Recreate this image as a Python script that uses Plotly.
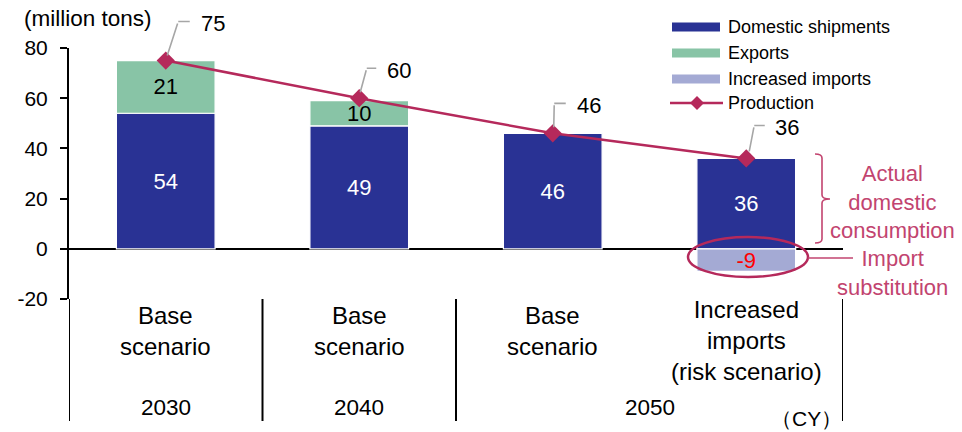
import plotly.graph_objects as go

# ---------------- data ----------------
scenarios = ["Base<br>scenario", "Base<br>scenario", "Base<br>scenario",
             "Increased<br>imports<br>(risk scenario)"]
years = ["2030", "2040", "2050"]
year_first_cat = [0, 1, 2]
year_last_cat = [0, 1, 3]
domestic = [54, 49, 46, 36]
exports = [21, 10, None, None]
imports = [None, None, None, -9]
production = [75, 60, 46, 36]
y_ticks = [-20, 0, 20, 40, 60, 80]
series_names = ["Domestic shipments", "Exports", "Increased imports", "Production"]
unit_label = "(million tons)"
year_unit = "（CY）"
note_actual = "Actual<br>domestic<br>consumption"
note_import = "Import<br>substitution"

# ---------------- style / geometry ----------------
W, H = 962, 432
L, R, T, B = 69, 119, 48, 133
PW, PH = W - L - R, H - T - B
FONT = "Liberation Sans, Arial, sans-serif"
C_DOM = "#293294"
C_EXP = "#88C4A6"
C_IMP = "#A4AAD4"
C_PROD = "#B5295B"
C_NOTE = "#C2446F"
C_LEAD = "#A6A6A6"


def px(x):
    return (x - L) / PW


def py(y):
    return (H - B - y) / PH


cats = list(range(len(scenarios)))


def lbl(vals):
    return ["" if v is None else str(v) for v in vals]


fig = go.Figure()
fig.add_trace(go.Bar(
    x=cats, y=domestic, name=series_names[0], marker=dict(color=C_DOM, line=dict(color="white", width=1.2)),
    text=lbl(domestic), textposition="inside", insidetextanchor="middle", textangle=0,
    textfont=dict(color="white", size=22, family=FONT)))
fig.add_trace(go.Bar(
    x=cats, y=exports, name=series_names[1], marker=dict(color=C_EXP, line=dict(color="white", width=1.2)),
    text=lbl(exports), textposition="inside", insidetextanchor="middle", textangle=0,
    textfont=dict(color="black", size=22, family=FONT)))
fig.add_trace(go.Bar(
    x=cats, y=imports, name=series_names[2], marker=dict(color=C_IMP, line=dict(color="white", width=1.2)),
    text=lbl(imports), textposition="inside", insidetextanchor="middle", textangle=0,
    textfont=dict(color="red", size=22, family=FONT)))
fig.add_trace(go.Scatter(
    x=cats, y=production, name=series_names[3], mode="lines+markers",
    line=dict(color=C_PROD, width=2.5), marker=dict(symbol="diamond", size=14, color=C_PROD)))

shapes = []
annotations = []

# production labels with bent leader lines (pixel offsets from marker: start, bend, end)
leader_pts = [
    [(1.5, 5), (12.5, 39), (25.5, 39)],
    [(1, 6), (7.5, 30), (18.5, 30)],
    [(1, 6), (1.5, 30), (14.5, 30)],
    [(3, 7), (8, 33), (20, 33)],
]
label_shift = [(47, 37), (40, 28), (36, 28), (41, 31)]
for i, v in enumerate(production):
    s, b, e = leader_pts[i]
    annotations.append(dict(x=cats[i], y=v, xref="x", yref="y", text=" ", showarrow=True,
                            xshift=s[0], yshift=s[1], ax=b[0] - s[0], ay=-(b[1] - s[1]),
                            arrowhead=0, arrowwidth=1.6, arrowcolor=C_LEAD, standoff=0,
                            font=dict(size=1)))
    annotations.append(dict(x=cats[i], y=v, xref="x", yref="y", text=" ", showarrow=True,
                            xshift=b[0], yshift=b[1], ax=e[0] - b[0], ay=-(e[1] - b[1]),
                            arrowhead=0, arrowwidth=1.6, arrowcolor=C_LEAD, standoff=0,
                            font=dict(size=1)))
    annotations.append(dict(x=cats[i], y=v, xref="x", yref="y", text=str(v), showarrow=False,
                            xshift=label_shift[i][0], yshift=label_shift[i][1],
                            xanchor="center", yanchor="middle",
                            font=dict(size=22, color="black", family=FONT)))

# category labels
for i, s in enumerate(scenarios):
    nlines = s.count("<br>") + 1
    yc = 331 if nlines == 2 else 340
    annotations.append(dict(x=cats[i], y=py(yc), xref="x", yref="paper", text=s, showarrow=False,
                            xanchor="center", yanchor="middle", align="center",
                            font=dict(size=24, color="black", family=FONT)))

# year labels
for j, yr in enumerate(years):
    xc = (year_first_cat[j] + year_last_cat[j]) / 2
    annotations.append(dict(x=xc, y=py(407), xref="x", yref="paper", text=yr, showarrow=False,
                            xanchor="center", yanchor="middle",
                            font=dict(size=22.5, color="black", family=FONT)))
annotations.append(dict(x=px(806), y=py(418), xref="paper", yref="paper", text=year_unit, showarrow=False,
                        xanchor="center", yanchor="middle",
                        font=dict(size=21, color="black", family=FONT)))

# separators below axis
for xs in [-0.5, 0.5, 1.5, 3.5]:
    shapes.append(dict(type="line", xref="x", yref="paper", x0=xs, x1=xs, y0=py(299), y1=py(421),
                       line=dict(color="black", width=2)))

# unit label
annotations.append(dict(x=px(22), y=py(18), xref="paper", yref="paper", text=unit_label, showarrow=False,
                        xanchor="left", yanchor="middle", font=dict(size=22.5, color="black", family=FONT)))

# manual legend
leg_rows = [27, 53, 79, 103]
leg_cols = [C_DOM, C_EXP, C_IMP]
for k in range(3):
    yc = leg_rows[k]
    shapes.append(dict(type="rect", xref="paper", yref="paper", x0=px(672), x1=px(720),
                       y0=py(yc - 4.5), y1=py(yc + 4.5), fillcolor=leg_cols[k], line=dict(width=0)))
shapes.append(dict(type="line", xref="paper", yref="paper", x0=px(670), x1=px(723),
                   y0=py(leg_rows[3]), y1=py(leg_rows[3]), line=dict(color=C_PROD, width=2.5)))
shapes.append(dict(type="path", xref="paper", yref="paper", xsizemode="pixel", ysizemode="pixel",
                   xanchor=px(697), yanchor=py(leg_rows[3]),
                   path="M -7,0 L 0,7 L 7,0 L 0,-7 Z", fillcolor=C_PROD, line=dict(width=0)))
for k, nm in enumerate(series_names):
    annotations.append(dict(x=px(726), y=py(leg_rows[k]), xref="paper", yref="paper", text=nm,
                            showarrow=False, xanchor="left", yanchor="middle",
                            font=dict(size=18, color="black", family=FONT)))

# bracket "}" for actual domestic consumption
shapes.append(dict(type="path", xref="paper", yref="paper", xsizemode="pixel", ysizemode="pixel",
                   xanchor=px(815), yanchor=py(154),
                   path="M 0,0 Q 7,0 7,-4 L 7,-41 Q 7,-45 15,-45 Q 7,-45 7,-49 L 7,-85 Q 7,-89 0,-89",
                   line=dict(color=C_NOTE, width=1.6)))
annotations.append(dict(x=px(892), y=py(202), xref="paper", yref="paper", text=note_actual,
                        showarrow=False, xanchor="center", yanchor="middle", align="center",
                        font=dict(size=22, color=C_NOTE, family=FONT)))

# ellipse and connector for import substitution
shapes.append(dict(type="circle", xref="paper", yref="paper", x0=px(688), x1=px(808),
                   y0=py(277), y1=py(237), line=dict(color=C_PROD, width=2.5)))
shapes.append(dict(type="line", xref="paper", yref="paper", x0=px(808), x1=px(853),
                   y0=py(258), y1=py(258), line=dict(color=C_NOTE, width=1.6)))
annotations.append(dict(x=px(892), y=py(273), xref="paper", yref="paper", text=note_import,
                        showarrow=False, xanchor="center", yanchor="middle", align="center",
                        font=dict(size=22, color=C_NOTE, family=FONT)))

fig.update_layout(
    width=W, height=H, margin=dict(l=L, r=R, t=T, b=B, pad=0),
    paper_bgcolor="white", plot_bgcolor="white",
    barmode="relative", bargap=0.49, showlegend=False,
    uniformtext=dict(minsize=22, mode="show"),
    font=dict(family=FONT, color="black"),
    shapes=shapes, annotations=annotations,
    xaxis=dict(range=[-0.5, 3.5], visible=False, fixedrange=True),
    yaxis=dict(range=[y_ticks[0], y_ticks[-1]], tickvals=y_ticks, ticktext=[str(v) for v in y_ticks],
               showline=True, linecolor="black", linewidth=2, ticks="outside", ticklen=7,
               tickwidth=2, tickcolor="black", tickfont=dict(size=21, family=FONT),
               showgrid=False, zeroline=True, zerolinecolor="black", zerolinewidth=2,
               ticklabelstandoff=8, fixedrange=True),
)

fig.write_html("out.html")
